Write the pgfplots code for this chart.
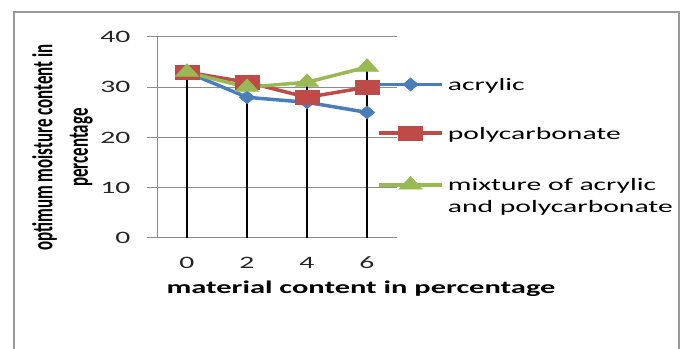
\documentclass[border=0pt]{standalone}
\usepackage{pgfplots}
\pgfplotsset{compat=1.18}
\usepackage{fontspec}
\setmainfont{Carlito}[FakeStretch=1.7]
\newfontfamily\plainfont{Carlito}
\definecolor{cblue}{HTML}{4A7EBB}
\definecolor{cred}{HTML}{BE4B48}
\definecolor{cgreen}{HTML}{98B954}
\definecolor{gridgray}{HTML}{8C8C8C}
\definecolor{framegray}{HTML}{9A9A9A}
\begin{document}
\begin{tikzpicture}
\useasboundingbox (0,0) rectangle (683bp,349bp);
\draw[framegray, line width=1.5bp] (14bp,-2bp) -- (14bp,337bp) -- (679bp,337bp) -- (679bp,-2bp);
\begin{axis}[
  at={(157bp,111bp)}, anchor=south west,
  scale only axis, width=240bp, height=201bp,
  xmin=-0.5, xmax=3.5, ymin=0, ymax=40,
  xtick={0,1,2,3}, xticklabels={0,2,4,6},
  ytick={0,10,20,30,40},
  axis lines=left, axis line style={-, gridgray, line width=1bp},
  ymajorgrids, grid style={gridgray, line width=1bp},
  tick align=outside, major tick length=10bp,
  ytick style={gridgray, line width=1bp}, xtick style={draw=none},
  /pgf/number format/assume math mode=true,
  tick label style={font=\fontsize{17.5}{20}\selectfont, text=black!85},
  xticklabel style={anchor=center, yshift=-15bp},
  yticklabel style={anchor=east, xshift=-13bp},
  xlabel={\bfseries material content in percentage},
  xlabel style={font=\fontsize{18}{20}\selectfont, at={(axis description cs:0.85,-0.254)}, anchor=center},
  ylabel={\scalebox{1}[1.7]{\plainfont\bfseries\fontsize{17}{21}\selectfont\begin{tabular}{@{}c@{}}optimum moisture content in\\percentage\end{tabular}}},
  ylabel style={at={(axis description cs:-0.392,0.45)}, anchor=center},
  clip=false,
  legend style={at={(axis description cs:0.905,0.815)}, anchor=north west, draw=none, fill=none,
    font=\fontsize{17.5}{22}\selectfont, row sep=31bp, column sep=2bp,
    cells={anchor=base west}},
  legend image code/.code={\draw[mark repeat=2,mark phase=2,#1] plot coordinates {(0bp,6bp)(31.5bp,6bp)(63bp,6bp)};},
]
\addplot[cblue, line width=3.5bp, mark=diamond*, mark size=6.5bp, mark options={xscale=1.6, line width=0.5bp}]
  coordinates {(0,33)(1,28)(2,27)(3,25)};
\addlegendentry{acrylic}
\addplot[cred, line width=3.5bp, mark=square*, mark size=7bp, mark options={xscale=1.7, line width=0.5bp}]
  coordinates {(0,33)(1,31)(2,28)(3,30)};
\addlegendentry{polycarbonate}
\addplot[cgreen, line width=3.5bp, mark=triangle*, mark size=8.5bp, mark options={xscale=1.6, line width=0.5bp}]
  coordinates {(0,33)(1,30)(2,31)(3,34)};
\addlegendentry{\begin{tabular}[t]{@{}l@{}}mixture of acrylic\\and polycarbonate\end{tabular}}
\addplot[black, line width=1.5bp, ycomb, no marks, forget plot]
  coordinates {(0,33)(1,31)(2,31)(3,34)};
\end{axis}
\end{tikzpicture}
\end{document}
